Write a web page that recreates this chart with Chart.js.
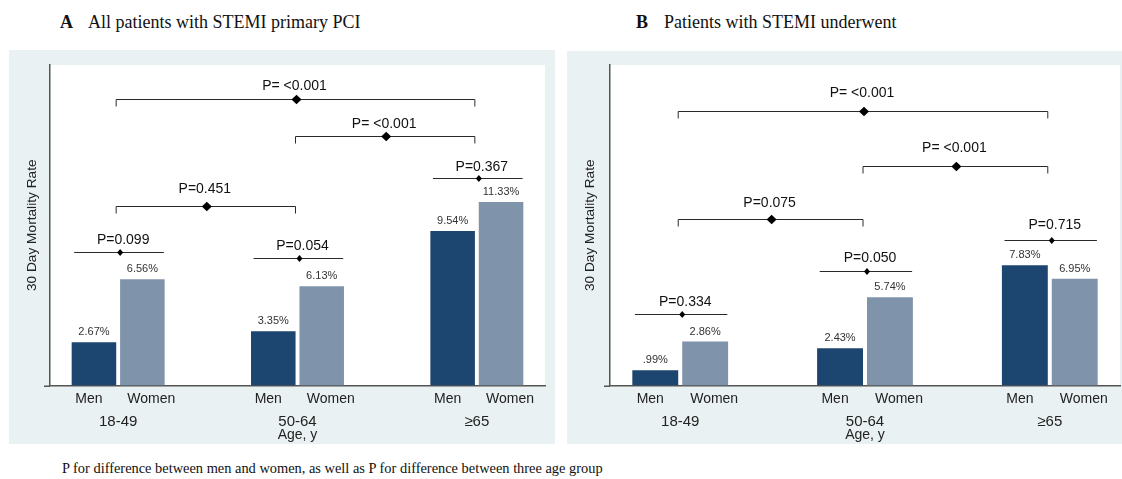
<!DOCTYPE html>
<html><head><meta charset="utf-8">
<script src="https://cdn.jsdelivr.net/npm/chart.js@4.4.1/dist/chart.umd.min.js"></script>
<style>
html,body{margin:0;padding:0;background:#fff;width:1122px;height:479px;overflow:hidden;}
body{position:relative;font-family:"Liberation Serif","Times New Roman",serif;color:#111;}
.title{position:absolute;top:13px;font-size:18px;line-height:18px;white-space:nowrap;}
.panel{position:absolute;}
#foot{position:absolute;left:62px;top:461px;font-size:14.4px;line-height:14px;white-space:nowrap;}
</style></head><body>
<div class="title" style="left:60px"><b>A</b><span style="margin-left:15px">All patients with STEMI primary PCI</span></div>
<div class="title" style="left:636px"><b>B</b><span style="margin-left:16px">Patients with STEMI underwent</span></div>
<div class="panel" style="left:9px;top:50px;width:546px;height:394px"><canvas id="cA" width="546" height="394" style="width:546px;height:394px"></canvas></div>
<div class="panel" style="left:567px;top:51px;width:555px;height:393px"><canvas id="cB" width="555" height="393" style="width:555px;height:393px"></canvas></div>
<div id="foot">P for difference between men and women, as well as P for difference between three age group</div>
<script>
// ---------- data ----------
const ageGroups = ['18-49', '50-64', '≥65'];
const sexLabels = ['Men', 'Women'];
const menA = [2.67, 3.35, 9.54];
const womenA = [6.56, 6.13, 11.33];
const menB = [0.99, 2.43, 7.83];
const womenB = [2.86, 5.74, 6.95];
// P for difference between men and women within each age group
const pSexA = ['P=0.099', 'P=0.054', 'P=0.367'];
const pSexB = ['P=0.334', 'P=0.050', 'P=0.715'];
// P for difference between age groups (group numbers 1..3)
const pAgeFrom = [1, 2, 1];
const pAgeTo = [3, 3, 2];
const pAgeA = ['P= <0.001', 'P= <0.001', 'P=0.451'];
const pAgeB = ['P= <0.001', 'P= <0.001', 'P=0.075'];

// ---------- annotation placement (in y-axis units) ----------
const annA = {
  yMax: 19.8,
  sexLine: [8.26, 7.89, 12.83], sexText: [9.0, 8.61, 13.48],
  ageLine: [17.73, 15.4, 11.1], ageText: [18.48, 16.17, 12.1]
};
const annB = {
  yMax: 20.85,
  sexLine: [4.65, 7.45, 9.47], sexText: [5.45, 8.30, 10.40],
  ageLine: [17.86, 14.3, 10.85], ageText: [19.01, 15.45, 11.89]
};

const SANS = '"Liberation Sans", Arial, Helvetica, sans-serif';
const MEN_COLOR = '#1c4670';
const WOMEN_COLOR = '#7f94aa';
const PANEL_BG = '#eaf1f3';

function fmtPct(v) {
  return v.toFixed(2).replace(/^0\./, '.') + '%';
}

function diamond(ctx, x, y, w, h) {
  ctx.beginPath();
  ctx.moveTo(x, y - h); ctx.lineTo(x + w, y); ctx.lineTo(x, y + h); ctx.lineTo(x - w, y);
  ctx.closePath(); ctx.fill();
}

function makePlugin(pSex, pAge, ann) {
  return {
    id: 'panelDecor',
    beforeDraw(chart) {
      const {ctx, chartArea: a, width, height} = chart;
      ctx.save();
      ctx.fillStyle = PANEL_BG;
      ctx.fillRect(0, 0, width, height);
      ctx.fillStyle = '#ffffff';
      ctx.fillRect(a.left, a.top, a.right - a.left, a.bottom - a.top);
      ctx.restore();
    },
    afterDraw(chart) {
      const ctx = chart.ctx, xs = chart.scales.x, ys = chart.scales.y, a = chart.chartArea;
      ctx.save();
      // small extension of the baseline left of the y axis
      ctx.strokeStyle = '#555'; ctx.lineWidth = 1.5;
      const y0 = Math.round(ys.getPixelForValue(0)) + 0.25;
      ctx.beginPath(); ctx.moveTo(a.left - 6, y0); ctx.lineTo(a.left, y0); ctx.stroke();

      // value labels above bars
      ctx.textAlign = 'center'; ctx.textBaseline = 'middle';
      ctx.font = '11px ' + SANS; ctx.fillStyle = '#333';
      chart.data.datasets.forEach((ds, di) => {
        chart.getDatasetMeta(di).data.forEach((bar, i) => {
          ctx.fillText(fmtPct(ds.data[i].y), bar.x, bar.y - 10);
        });
      });
      // Men / Women labels under bars
      ctx.font = '14px ' + SANS; ctx.fillStyle = '#222';
      chart.getDatasetMeta(0).data.forEach(bar => ctx.fillText(sexLabels[0], bar.x - 5, a.bottom + 14));
      chart.getDatasetMeta(1).data.forEach(bar => ctx.fillText(sexLabels[1], bar.x + 9, a.bottom + 14));

      const step = xs.getPixelForValue(2) - xs.getPixelForValue(1);
      ctx.strokeStyle = '#2a2a2a'; ctx.fillStyle = '#000'; ctx.lineWidth = 1;
      ctx.font = '14px ' + SANS;
      // sex comparisons within groups
      pSex.forEach((txt, g) => {
        const c = xs.getPixelForValue(g + 1);
        const x1 = c - 0.245 * step, x2 = c + 0.255 * step;
        const y = Math.round(ys.getPixelForValue(ann.sexLine[g])) + 0.5;
        ctx.beginPath(); ctx.moveTo(x1, y); ctx.lineTo(x2, y); ctx.stroke();
        diamond(ctx, c + 2, y, 3, 3.5);
        ctx.fillStyle = '#111';
        ctx.fillText(txt, c + 5, ys.getPixelForValue(ann.sexText[g]));
        ctx.fillStyle = '#000';
      });
      // age-group comparisons
      pAge.forEach((txt, k) => {
        const x1 = xs.getPixelForValue(pAgeFrom[k]) - 2;
        const x2 = xs.getPixelForValue(pAgeTo[k]) - 2;
        const y = Math.round(ys.getPixelForValue(ann.ageLine[k])) + 0.5;
        ctx.beginPath();
        ctx.moveTo(x1, y + 7); ctx.lineTo(x1, y); ctx.lineTo(x2, y); ctx.lineTo(x2, y + 7);
        ctx.stroke();
        const m = (x1 + x2) / 2;
        diamond(ctx, m + 1, y, 5, 4.7);
        ctx.fillStyle = '#111';
        ctx.fillText(txt, m - 1, ys.getPixelForValue(ann.ageText[k]));
        ctx.fillStyle = '#000';
      });
      ctx.restore();
    }
  };
}

function makeChart(id, men, women, pSex, pAge, ann, yAxisWidth, pad) {
  const toPts = arr => arr.map((v, i) => ({x: i + 1, y: v}));
  return new Chart(document.getElementById(id), {
    type: 'bar',
    data: {
      datasets: [
        {label: sexLabels[0], data: toPts(men), backgroundColor: MEN_COLOR, borderWidth: 0,
         categoryPercentage: 0.54, barPercentage: 0.92},
        {label: sexLabels[1], data: toPts(women), backgroundColor: WOMEN_COLOR, borderWidth: 0,
         categoryPercentage: 0.54, barPercentage: 0.92}
      ]
    },
    options: {
      responsive: false,
      animation: false,
      layout: {padding: pad},
      plugins: {legend: {display: false}, tooltip: {enabled: false}},
      scales: {
        x: {
          type: 'linear', min: 0.62, max: 3.38, offset: false,
          afterBuildTicks: s => { s.ticks = [1, 2, 3].map(v => ({value: v})); },
          afterFit: s => { s.height = 58.5; },
          grid: {display: false, drawTicks: false},
          border: {display: true, color: '#555', width: 1.5},
          ticks: {
            autoSkip: false, maxRotation: 0, padding: 27.5,
            font: {family: SANS, size: 15}, color: '#222',
            callback: v => ageGroups[Math.round(v) - 1]
          },
          title: {display: true, text: 'Age, y', font: {family: SANS, size: 14}, color: '#222',
                  padding: {top: 0, bottom: 0}}
        },
        y: {
          min: 0, max: ann.yMax,
          afterFit: s => { s.width = yAxisWidth; },
          grid: {display: false, drawTicks: false},
          border: {display: true, color: '#555', width: 1.5},
          ticks: {display: false},
          title: {display: true, text: '30 Day Mortality Rate', font: {family: SANS, size: 13.7},
                  color: '#222', padding: {top: 15.3, bottom: 0}}
        }
      }
    },
    plugins: [makePlugin(pSex, pAge, ann)]
  });
}

makeChart('cA', menA, womenA, pSexA, pAgeA, annA, 41, {top: 15, right: 10, left: 0, bottom: 0});
makeChart('cB', menB, womenB, pSexB, pAgeB, annB, 43, {top: 14, right: 2, left: 0, bottom: 0});
</script>
</body></html>
